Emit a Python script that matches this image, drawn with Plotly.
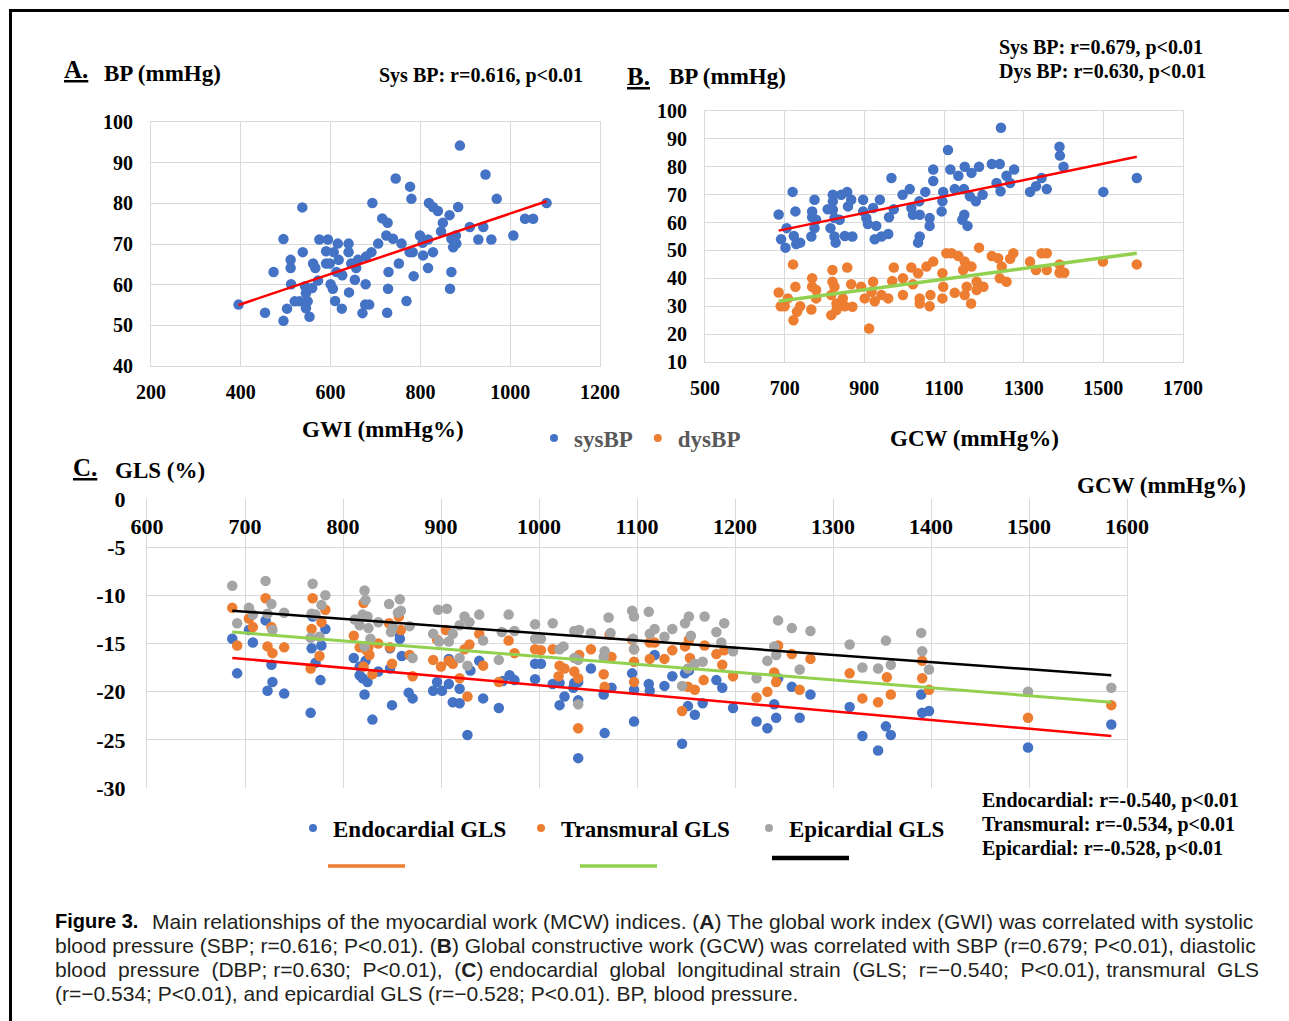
import plotly.graph_objects as go

W, H = 1289, 1021

# ---------------- Panel A data: GWI vs systolic BP ----------------
a_gwi = [395, 454, 495, 473, 495, 537, 511, 511, 512, 503,
         520, 538, 543, 545, 549, 545, 553, 559, 561, 566,
         572, 531, 575, 594, 590, 607, 590, 598, 616, 618,
         640, 640, 600, 605, 613, 626, 610, 625, 641, 654,
         657, 661, 646, 671, 677, 686, 678, 679, 691, 693,
         706, 715, 727, 724, 739, 745, 758, 752, 729, 728,
         726, 769, 777, 780, 776, 783, 785, 799, 805, 817,
         806, 828, 817, 819, 828, 839, 850, 846, 865, 884,
         869, 879, 880, 873, 869, 866, 888, 910, 929, 940,
         958, 945, 970, 1007, 1033, 1051, 1081]
a_sbp = [55.1, 53.1, 51.1, 63.1, 71.2, 79.0, 66.1, 64.1, 60.1, 54.1,
         55.9, 68.0, 59.6, 57.9, 55.9, 54.2, 52.1, 59.2, 65.2, 64.1,
         61.0, 55.9, 71.1, 71.1, 68.2, 68.0, 65.2, 65.2, 70.1, 66.1,
         70.1, 68.0, 60.1, 59.0, 63.1, 62.3, 56.0, 54.1, 58.1, 61.2,
         64.1, 66.1, 65.2, 53.0, 55.1, 55.1, 60.1, 66.9, 68.0, 80.1,
         70.1, 76.3, 75.2, 72.1, 71.3, 86.1, 70.1, 65.2, 63.1, 59.0,
         53.1, 56.0, 84.1, 81.1, 68.0, 68.0, 62.1, 72.1, 70.3, 71.1,
         67.2, 68.0, 64.1, 80.1, 79.1, 78.1, 75.2, 73.1, 77.1, 79.1,
         71.3, 72.1, 70.1, 69.2, 63.1, 59.0, 94.2, 74.2, 71.1, 74.2,
         71.1, 87.1, 81.1, 72.1, 76.2, 76.2, 80.1]
a_trend_x = [395, 1081]
a_trend_y = [55.0, 80.5]

# ---------------- Panel B data: GCW vs systolic / diastolic BP ----------------
b_gcw_sys = [685, 720, 727, 705, 691, 702, 723, 729, 739, 775,
             769, 769, 779, 775, 767, 808, 821, 821, 821, 825,
             815, 825, 828, 838, 842, 857, 867, 859, 851, 870,
             897, 897, 905, 909, 922, 930, 939, 926, 943, 960,
             962, 974, 968, 996, 1014, 1018, 1022, 1039, 1038, 1039,
             1035, 1053, 1064, 1064, 1073, 1073, 1098, 1096, 1094, 1110,
             1116, 1127, 1136, 1150, 1152, 1169, 1165, 1180, 1197, 1188,
             1151, 1146, 1159, 1220, 1240, 1232, 1242, 1243, 1257, 1266,
             1276, 1316, 1331, 1345, 1358, 1390, 1391, 1400, 1500, 1584]
b_sbp = [62.9, 71.0, 64.0, 58.0, 54.0, 51.0, 55.2, 52.3, 52.8, 68.2,
         64.0, 61.9, 61.0, 58.0, 55.0, 64.8, 70.0, 67.6, 64.6, 61.6,
         58.0, 55.0, 52.8, 61.0, 70.0, 71.0, 68.2, 65.8, 55.2, 55.0,
         68.2, 64.0, 61.6, 59.5, 65.2, 58.8, 68.2, 54.0, 55.0, 55.9,
         61.9, 64.8, 76.0, 70.0, 72.0, 65.2, 62.8, 62.8, 67.6, 55.0,
         52.8, 71.0, 61.6, 58.8, 79.0, 74.9, 71.0, 67.6, 64.0, 86.0,
         79.0, 72.0, 76.8, 72.0, 80.0, 77.8, 69.4, 67.6, 70.0, 80.0,
         62.8, 61.0, 58.8, 81.0, 81.0, 74.2, 71.2, 94.0, 76.8, 74.2,
         79.0, 71.0, 73.0, 76.0, 72.0, 87.2, 84.0, 80.0, 71.0, 76.0]
b_gcw_dys = [685, 690, 700, 708, 721, 727, 722, 731, 739, 767,
             769, 769, 779, 779, 817, 820, 820, 817, 825, 830,
             830, 846, 851, 857, 867, 870, 892, 901, 912, 922,
             918, 926, 943, 960, 970, 974, 997, 997, 1018, 1022,
             1035, 1039, 1039, 1056, 1064, 1066, 1073, 1096, 1098, 1096,
             1106, 1119, 1136, 1127, 1148, 1152, 1157, 1152, 1169, 1168,
             1182, 1188, 1199, 1182, 1220, 1236, 1240, 1245, 1257, 1266,
             1274, 1316, 1331, 1345, 1358, 1358, 1390, 1390, 1402, 1499,
             1584]
b_dbp = [34.9, 30.0, 30.0, 32.8, 45.0, 37.0, 25.0, 28.0, 30.0, 28.8,
         40.0, 37.0, 35.8, 32.8, 26.8, 43.0, 38.8, 34.0, 37.0, 31.0,
         28.6, 32.8, 30.0, 43.9, 37.9, 29.8, 37.0, 32.8, 22.0, 38.8,
         35.2, 31.8, 34.0, 32.8, 39.0, 43.9, 40.0, 34.0, 43.9, 37.9,
         41.8, 32.8, 31.0, 44.2, 30.0, 34.0, 46.0, 41.8, 37.0, 32.8,
         49.0, 49.0, 48.0, 34.8, 43.0, 46.0, 37.0, 34.0, 44.2, 31.0,
         38.8, 51.0, 37.0, 35.8, 48.0, 47.2, 40.0, 44.2, 38.8, 47.0,
         49.0, 46.0, 43.0, 49.0, 49.0, 43.0, 45.0, 42.0, 42.0, 46.0,
         45.0]
b_trend_x = [685, 1584]
b_sys_trend_y = [57.1, 83.6]
b_dys_trend_y = [31.8, 49.0]

# ---------------- Panel C data: GCW vs layer-specific GLS ----------------
c_gcw_endo = [687, 692, 704, 708, 721, 727, 728, 723, 740, 769,
              782, 778, 768, 772, 777, 767, 811, 817, 823, 817,
              820, 825, 822, 830, 836, 848, 858, 857, 848, 850,
              860, 867, 871, 892, 896, 901, 908, 908, 912, 919,
              919, 927, 930, 939, 943, 959, 963, 970, 975, 996,
              996, 1002, 1014, 1021, 1021, 1026, 1035, 1036, 1040, 1040,
              1040, 1053, 1066, 1067, 1074, 1095, 1097, 1097, 1112, 1113,
              1118, 1128, 1136, 1149, 1153, 1152, 1159, 1167, 1181, 1187,
              1198, 1146, 1222, 1233, 1242, 1240, 1244, 1258, 1266, 1277,
              1317, 1330, 1346, 1354, 1359, 1390, 1391, 1398, 1499, 1584]
c_endo = [-14.5, -18.1, -13.6, -14.9, -12.6, -17.2, -19.0, -19.9, -20.2, -12.2,
          -13.5, -15.2, -15.5, -17.0, -18.8, -22.2, -16.5, -17.4, -16.8, -18.3,
          -18.6, -19.0, -20.3, -22.9, -17.9, -15.5, -14.5, -13.9, -17.6, -21.4,
          -16.3, -20.1, -20.7, -19.9, -19.0, -19.9, -19.2, -16.6, -21.1, -21.2,
          -19.7, -24.5, -17.8, -16.8, -20.7, -21.7, -18.9, -18.3, -18.8, -17.1,
          -18.7, -17.1, -19.2, -19.1, -21.4, -20.5, -19.6, -19.1, -19.0, -20.9,
          -26.9, -17.6, -20.3, -24.3, -19.6, -18.1, -19.8, -23.1, -19.2, -19.9,
          -16.2, -19.4, -18.4, -18.1, -17.8, -21.5, -22.4, -21.2, -18.8, -19.6,
          -21.7, -25.4, -23.1, -23.8, -22.7, -21.3, -18.6, -19.5, -22.7, -20.3,
          -21.6, -24.6, -26.1, -23.6, -24.5, -20.3, -22.2, -22.0, -25.8, -23.4]
c_gcw_trans = [687, 692, 704, 708, 721, 727, 723, 728, 740, 769,
               782, 778, 768, 776, 767, 821, 811, 817, 826, 827,
               824, 821, 830, 836, 847, 857, 859, 848, 850, 868,
               871, 892, 896, 900, 905, 908, 912, 919, 924, 929,
               927, 939, 943, 959, 969, 975, 996, 1002, 1014, 1021,
               1026, 1020, 1036, 1041, 1040, 1040, 1053, 1066, 1067, 1072,
               1074, 1095, 1097, 1097, 1097, 1113, 1118, 1113, 1128, 1136,
               1149, 1153, 1154, 1152, 1159, 1168, 1169, 1181, 1187, 1189,
               1198, 1146, 1222, 1233, 1240, 1242, 1244, 1258, 1266, 1277,
               1317, 1330, 1346, 1355, 1359, 1391, 1391, 1398, 1499, 1584]
c_trans = [-11.3, -15.2, -12.4, -13.3, -10.3, -13.3, -15.3, -16.0, -15.4, -10.3,
           -11.5, -12.8, -13.5, -16.3, -17.6, -10.8, -14.2, -15.4, -15.4, -16.2,
           -15.7, -17.4, -18.2, -15.0, -12.9, -12.2, -13.6, -15.4, -17.1, -16.2,
           -18.4, -16.7, -14.6, -17.4, -13.6, -16.8, -17.1, -18.6, -15.6, -15.1,
           -20.5, -14.0, -17.3, -19.0, -14.7, -16.0, -15.6, -15.7, -15.6, -17.3,
           -17.6, -18.4, -17.9, -16.2, -18.6, -23.8, -15.6, -18.2, -19.5, -14.1,
           -16.4, -14.6, -15.6, -16.9, -19.0, -14.9, -14.9, -16.6, -16.6, -15.7,
           -15.3, -14.6, -16.5, -19.5, -19.8, -18.8, -15.2, -16.1, -17.2, -15.7,
           -18.4, -22.0, -20.6, -20.0, -18.0, -19.0, -15.2, -16.1, -19.8, -16.6,
           -18.1, -20.7, -21.1, -18.5, -20.3, -16.8, -18.6, -19.8, -22.7, -21.4]
c_gcw_epi = [687, 721, 692, 704, 708, 727, 728, 723, 740, 769,
             782, 778, 768, 772, 776, 767, 822, 823, 820, 825,
             812, 817, 826, 828, 822, 836, 847, 858, 856, 859,
             849, 851, 868, 871, 897, 906, 892, 898, 908, 912,
             919, 924, 929, 939, 943, 919, 927, 959, 962, 969,
             975, 996, 996, 1002, 1014, 1036, 1041, 1053, 1071, 1073,
             1067, 1066, 1021, 1025, 1036, 1040, 1040, 1095, 1097, 1096,
             1097, 1112, 1118, 1113, 1128, 1136, 1149, 1153, 1155, 1169,
             1181, 1189, 1186, 1198, 1159, 1167, 1152, 1146, 1222, 1233,
             1242, 1240, 1244, 1258, 1277, 1266, 1317, 1330, 1346, 1354,
             1359, 1390, 1391, 1398, 1499, 1584]
c_epi = [-9.0, -8.5, -12.9, -11.3, -12.0, -10.9, -13.6, -11.9, -11.8, -8.8,
         -10.0, -11.0, -11.9, -12.0, -14.3, -14.4, -9.5, -10.5, -12.0, -12.2,
         -12.5, -13.1, -13.4, -14.5, -15.3, -12.8, -10.9, -10.4, -11.8, -11.6,
         -13.8, -13.3, -13.2, -16.5, -11.5, -11.4, -14.0, -14.8, -14.8, -14.0,
         -13.1, -12.2, -12.8, -12.0, -14.7, -16.5, -17.3, -16.7, -13.8, -12.0,
         -13.7, -13.0, -14.5, -14.5, -12.9, -13.7, -13.6, -13.9, -12.3, -13.9,
         -15.8, -16.4, -15.6, -15.3, -16.5, -16.7, -21.3, -11.6, -12.2, -14.5,
         -15.6, -11.7, -13.5, -14.0, -14.3, -13.5, -12.9, -12.2, -14.2, -12.2,
         -13.8, -12.9, -14.9, -15.8, -17.1, -16.9, -17.6, -19.4, -18.6, -16.8,
         -16.2, -15.3, -12.6, -13.4, -13.7, -17.7, -15.1, -17.5, -17.6, -14.7,
         -17.2, -13.9, -15.8, -17.7, -20.0, -19.6]
c_trend_x = [687, 1584]
c_endo_trend_y = [-16.5, -24.6]
c_trans_trend_y = [-13.8, -21.1]
c_epi_trend_y = [-11.6, -18.3]
c_gls_ticks = [-30, -25, -20, -15, -10, -5, 0]
c_gls_ticktext = ["-30", "-25", "-20", "-15", "-10", "-5", "0"]

BLUE, ORANGE, GREY = "#4472C4", "#ED7D31", "#A5A5A5"
RED, GREEN, BLACK = "#FF0000", "#92D050", "#000000"
SERIF = "Liberation Serif"
SANS = "Liberation Sans"


def px(x):
    return x / W


def py(y):
    return 1 - y / H


fig = go.Figure()


def pts(x, y, color, xa, ya):
    fig.add_trace(go.Scatter(x=x, y=y, mode="markers", xaxis=xa, yaxis=ya,
                             marker=dict(color=color, size=10.5, line=dict(width=0)),
                             showlegend=False, hoverinfo="x+y"))


def trend(x, y, color, width, xa, ya):
    fig.add_trace(go.Scatter(x=x, y=y, mode="lines", xaxis=xa, yaxis=ya,
                             line=dict(color=color, width=width),
                             showlegend=False, hoverinfo="skip"))


# Panel A
pts(a_gwi, a_sbp, BLUE, "x", "y")
trend(a_trend_x, a_trend_y, RED, 2.5, "x", "y")
# Panel B
pts(b_gcw_sys, b_sbp, BLUE, "x2", "y2")
pts(b_gcw_dys, b_dbp, ORANGE, "x2", "y2")
trend(b_trend_x, b_sys_trend_y, RED, 2.5, "x2", "y2")
trend(b_trend_x, b_dys_trend_y, GREEN, 3.5, "x2", "y2")
# Panel C
pts(c_gcw_endo, c_endo, BLUE, "x3", "y3")
pts(c_gcw_trans, c_trans, ORANGE, "x3", "y3")
pts(c_gcw_epi, c_epi, GREY, "x3", "y3")
trend(c_trend_x, c_endo_trend_y, RED, 2.5, "x3", "y3")
trend(c_trend_x, c_trans_trend_y, GREEN, 3, "x3", "y3")
trend(c_trend_x, c_epi_trend_y, BLACK, 2.5, "x3", "y3")

# legend entries
for name, col in [("sysBP", BLUE), ("dysBP", ORANGE)]:
    fig.add_trace(go.Scatter(x=[None], y=[None], mode="markers", name=name,
                             marker=dict(color=col, size=8), xaxis="x2", yaxis="y2",
                             legend="legend"))
for name, col in [("Endocardial GLS", BLUE), ("Transmural GLS", ORANGE),
                  ("Epicardial GLS", GREY)]:
    fig.add_trace(go.Scatter(x=[None], y=[None], mode="markers", name=name,
                             marker=dict(color=col, size=8), xaxis="x3", yaxis="y3",
                             legend="legend2"))

GRID = "#D9D9D9"


def axis(domain, rng, dtick, size=20, standoff=8, **kw):
    d = dict(domain=domain, range=rng, dtick=dtick, gridcolor=GRID, gridwidth=1,
             showline=True, linecolor=GRID, linewidth=1, mirror=True,
             zeroline=False, ticks="", fixedrange=True, automargin=False,
             tickfont=dict(family=SERIF, size=size, color="#000000", weight="bold"),
             ticklabelstandoff=standoff)
    d.update(kw)
    return d


fig.update_layout(
    width=W, height=H,
    margin=dict(l=0, r=0, t=0, b=0, pad=0, autoexpand=False),
    paper_bgcolor="white", plot_bgcolor="white",
    xaxis=axis([px(151), px(600)], [200, 1200], 200, standoff=8, anchor="y", tick0=200),
    yaxis=axis([py(366), py(122)], [40, 100], 10, standoff=13, anchor="x"),
    xaxis2=axis([px(705), px(1183)], [500, 1700], 200, standoff=8, anchor="y2", tick0=500),
    yaxis2=axis([py(362), py(111)], [10, 100], 10, standoff=13, anchor="x2"),
    xaxis3=axis([px(147), px(1127)], [600, 1600], 100, size=22, standoff=16,
                anchor="free", position=py(499), side="top", tick0=600,
                ticklabelposition="inside", ticklabeloverflow="allow",
                showline=False, mirror=False),
    yaxis3=axis([py(788), py(499)], [-30, 0], 5, size=22, standoff=16, anchor="x3",
                tickmode="array", tickvals=c_gls_ticks, ticktext=c_gls_ticktext,
                ticklabeloverflow="allow"),
    legend=dict(x=px(534), y=py(438), xanchor="left", yanchor="middle",
                orientation="h", bgcolor="rgba(0,0,0,0)", itemwidth=30,
                font=dict(family=SERIF, size=23, color="#595959", weight="bold")),
    legend2=dict(x=px(293), y=py(828), xanchor="left", yanchor="middle",
                 orientation="h", bgcolor="rgba(0,0,0,0)", itemwidth=30,
                 entrywidth=183,
                 font=dict(family=SERIF, size=23, color="#000000", weight="bold")),
)


def txt(s, x, y, size, anchor="left", family=SERIF, bold=True, color="#000000"):
    fig.add_annotation(text=s, x=px(x), y=py(y), xref="paper", yref="paper",
                       xanchor=anchor, yanchor="middle", showarrow=False,
                       font=dict(family=family, size=size, color=color,
                                 weight="bold" if bold else "normal"))


# panel titles and stats
txt("<u>A.</u>", 62, 70, 25)
txt("BP (mmHg)", 102, 73, 23)
txt("Sys BP: r=0.616, p<0.01", 377, 75, 20)
txt("GWI (mmHg%)", 383, 429, 23, anchor="center")
txt("<u>B.</u>", 625, 76, 25)
txt("BP (mmHg)", 667, 76, 23)
txt("Sys BP: r=0.679, p<0.01", 997, 48, 20)
txt("Dys BP: r=0.630, p<0.01", 997, 72, 20)
txt("GCW (mmHg%)", 975, 438, 23, anchor="center")
txt("<u>C.</u>", 71, 467, 25)
txt("GLS (%)", 113, 470, 23)
txt("GCW (mmHg%)", 1075, 485, 23)
txt("Endocardial: r=-0.540, p<0.01", 980, 800, 20)
txt("Transmural: r=-0.534, p<0.01", 980, 824, 20)
txt("Epicardial: r=-0.528, p<0.01", 980, 848, 20)

# caption (third line justified by widening some word gaps)
txt("Figure 3.", 53, 921, 20, family=SANS)
line3_words = ["blood", "pressure", "(DBP;", "r=0.630;", "P<0.01),", "(<b>C</b>)",
               "endocardial", "global", "longitudinal", "strain", "(GLS;",
               "r=−0.540;", "P<0.01),", "transmural", "GLS"]
wide_gaps = {0, 1, 3, 4, 6, 7, 9, 10, 11, 13}
line3 = line3_words[0]
for i, w in enumerate(line3_words[1:]):
    line3 += ("\u00a0 " if i in wide_gaps else " ") + w
cap = [
    (150, 921, "Main relationships of the myocardial work (MCW) indices. (<b>A</b>) The global work index (GWI) was correlated with systolic"),
    (53, 945, "blood pressure (SBP; r=0.616; P<0.01). (<b>B</b>) Global constructive work (GCW) was correlated with SBP (r=0.679; P<0.01), diastolic"),
    (53, 969, line3),
    (53, 993, "(r=−0.534; P<0.01), and epicardial GLS (r=−0.528; P<0.01). BP, blood pressure."),
]
for x, y, s in cap:
    txt(s, x, y, 21, family=SANS, bold=False, color="#231F20")

# trendline legend keys and frame
shapes = [
    dict(type="line", xref="paper", yref="paper", x0=px(328), x1=px(405), y0=py(866), y1=py(866),
         line=dict(color=ORANGE, width=3.5)),
    dict(type="line", xref="paper", yref="paper", x0=px(580), x1=px(657), y0=py(866), y1=py(866),
         line=dict(color=GREEN, width=3.5)),
    dict(type="line", xref="paper", yref="paper", x0=px(772), x1=px(849), y0=py(858), y1=py(858),
         line=dict(color=BLACK, width=4.5)),
    dict(type="line", xref="paper", yref="paper", x0=px(9), x1=px(1289), y0=py(10.5), y1=py(10.5),
         line=dict(color=BLACK, width=3)),
    dict(type="line", xref="paper", yref="paper", x0=px(10.5), x1=px(10.5), y0=py(9), y1=py(1021),
         line=dict(color=BLACK, width=3)),
]
fig.update_layout(shapes=shapes)

fig.write_html("out.html", config={"displayModeBar": False},
               post_script="document.body.style.margin='0px';document.body.style.overflow='hidden';")
